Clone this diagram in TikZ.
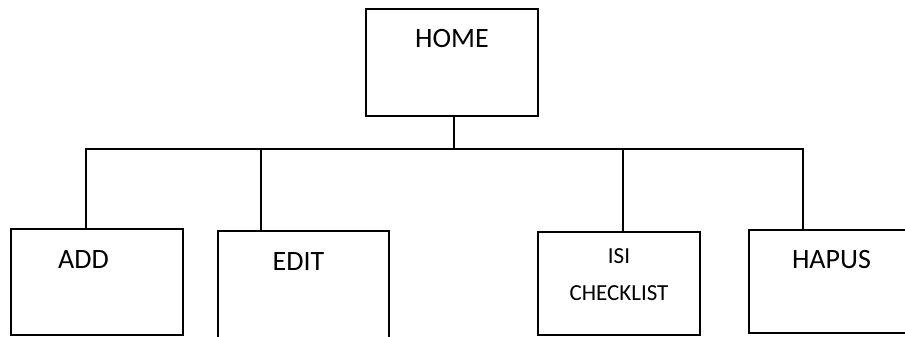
\documentclass[tikz,border=0pt]{standalone}
\usepackage{fontspec}
\setmainfont{Carlito}
\usetikzlibrary{positioning}

\begin{document}
\begin{tikzpicture}[x=1pt,y=-1pt,line width=1.6pt,
                    menu/.style={draw,inner sep=0pt,outer sep=0pt,anchor=north west,
                                 minimum width=172pt,minimum height=106pt},
                    caption/.style={anchor=base,font=\fontsize{28}{34}\selectfont}]
  \useasboundingbox (0,0) rectangle (905,337);

  % menu boxes
  \node[menu,minimum height=107pt,label={[caption,yshift=-39pt]north:HOME}] (home) at (366,9) {};
  \node[menu,label={[caption,xshift=-13.5pt,yshift=-39pt]north:ADD}] (add) at (11,229) {};
  \node[menu,minimum width=171pt,minimum height=130pt,
        label={[caption,xshift=-5pt,yshift=-39pt]north:EDIT}] (edit) at (218,231) {};
  \node[menu,minimum width=162pt,minimum height=103pt,
        label={[caption,align=center,font=\fontsize{23}{37}\selectfont,yshift=-68pt]north:ISI\\CHECKLIST}] (isi) at (538,232) {};
  \node[menu,minimum width=165pt,minimum height=103pt,
        label={[caption,yshift=-38pt]north:HAPUS}] (hapus) at (749,230) {};

  % tree lines
  \coordinate (busL) at (86,149);
  \coordinate (busR) at (803,149);
  \coordinate (jHome) at (454,149);
  \coordinate (jEdit) at (261,149);
  \coordinate (jIsi) at (623,149);

  \draw (busL |- add.north) -- (busL) -- (busR) -- (busR |- hapus.north);
  \draw (jHome |- home.south) -- (jHome);
  \draw (jEdit) -- (jEdit |- edit.north);
  \draw (jIsi) -- (jIsi |- isi.north);
\end{tikzpicture}
\end{document}
